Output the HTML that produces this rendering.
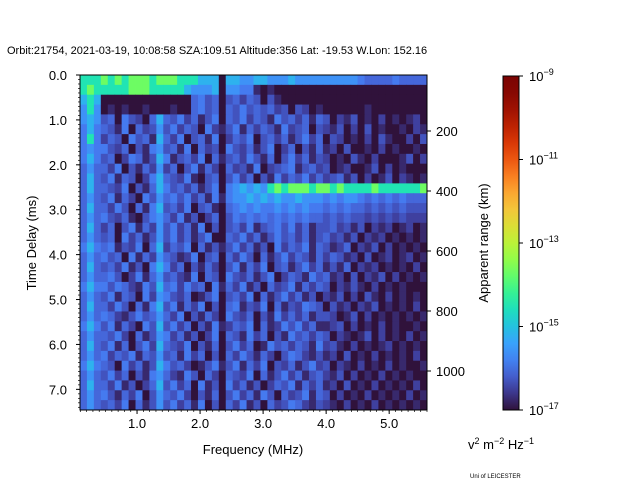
<!DOCTYPE html>
<html><head><meta charset="utf-8"><style>
body{margin:0;background:#fff;width:640px;height:480px;overflow:hidden;font-family:"Liberation Sans",sans-serif}
svg text{font-family:"Liberation Sans",sans-serif;fill:#000}
</style></head><body>
<svg id="chart" width="640" height="480" viewBox="0 0 640 480" xmlns="http://www.w3.org/2000/svg">
<text x="7" y="54" font-size="11">Orbit:21754, 2021-03-19, 10:08:58 SZA:109.51 Altitude:356 Lat: -19.53 W.Lon: 152.16</text>
<g id="cells"></g>
<g id="axes"></g>
<text x="253" y="454" font-size="13" text-anchor="middle">Frequency (MHz)</text>
<text transform="translate(36,243) rotate(-90)" font-size="13" text-anchor="middle">Time Delay (ms)</text>
<text transform="translate(488,243) rotate(-90)" font-size="13" text-anchor="middle">Apparent range (km)</text>
<text x="468" y="449" font-size="13">v<tspan font-size="9" dy="-5">2</tspan><tspan dy="5"> m</tspan><tspan font-size="9" dy="-5">−2</tspan><tspan dy="5"> Hz</tspan><tspan font-size="9" dy="-5">−1</tspan></text>
<text x="470" y="478" font-size="6">Uni of LEICESTER</text>
<defs><linearGradient id="cbg" x1="0" y1="1" x2="0" y2="0"></linearGradient></defs>
<rect x="503" y="76" width="16" height="334" fill="url(#cbg)" stroke="#000" stroke-width="1"/>
<g id="cbticks"></g>
</svg>
<script>
const freqMin = 0.095, freqMax = 5.6;
const delayMin = 0, delayMax = 7.46;
const kmTop = 13.3, kmBottom = 1130;
const xTicks = [1.0, 2.0, 3.0, 4.0, 5.0];
const xTickLabels = ["1.0", "2.0", "3.0", "4.0", "5.0"];
const yTicks = [0, 1, 2, 3, 4, 5, 6, 7];
const yTickLabels = ["0.0", "1.0", "2.0", "3.0", "4.0", "5.0", "6.0", "7.0"];
const kmTicks = [200, 400, 600, 800, 1000];
const cbTicks = [-9, -11, -13, -15, -17];
const cbMin = -17, cbMax = -9;
const levels = [-17, -16.75, -16.5, -16.3, -16.1, -15.9, -15.6, -15.2, -14.5, -13.7];
const rows = [
"888989899989998887"+"77"+"0"+"77667766676666666665444454444",
"898"+"8888999888887"+"6667"+"0"+"6655"+"1010000000000000000000000",
"787"+"0000000000000"+"4534"+"0"+"3424303100000000"+"0000000000000",
"686"+"0101001000100"+"4534"+"0"+"4353434230320100"+"0000100000000",
"676"+"34053204"+"7"+"43524135"+"0"+"43524315342414"+"302130102010120",
"575"+"43150423"+"6"+"35243052"+"1"+"35142431523403"+"213020301001021",
"585"+"24305341"+"7"+"42503415"+"0"+"24350342413524"+"032010203100203",
"565"+"53240315"+"6"+"34150423"+"0"+"53241350240314"+"120300102010010",
"575"+"34025413"+"7"+"51342504"+"1"+"34253140352413"+"201031020001302",
"464"+"42503142"+"6"+"24035142"+"0"+"42315023451342"+"301200130201000",
"474"+"35143025"+"7"+"43251034"+"0"+"35240315243524"+"234130201302101",
"474"+"43250314"+"7"+"53424135"+"0"+"567676"+"89899989989888898888889",
"464"+"35142053"+"6"+"45352415"+"1"+"566767"+"67667666565665454545444",
"474"+"42530415"+"7"+"34250341"+"0"+"456565"+"56565655454544343434333",
"464"+"53241035"+"6"+"42513024"+"0"+"354545"+"45454544343433232323222",
"474"+"24035142"+"6"+"35241503"+"0"+"34251345352413"+"342313021201201",
"464"+"34052413"+"6"+"35241350"+"0"+"43524135342413"+"423130212010101",
"575"+"45132504"+"7"+"24350413"+"1"+"35241305243514"+"312402130201010",
"464"+"53405142"+"6"+"43125034"+"0"+"42530413524314"+"243120301201201",
"474"+"34251305"+"7"+"52403142"+"0"+"35142503413524"+"131402120101020",
"464"+"45302514"+"6"+"34215043"+"0"+"53241350243153"+"412030213020101",
"575"+"53542153"+"7"+"45253405"+"1"+"42513042351424"+"302131020101000",
"464"+"35143052"+"6"+"53240135"+"0"+"34250413524130"+"213020310201010",
"474"+"42530415"+"7"+"35142503"+"0"+"45132504132543"+"031202130101020",
"464"+"54213534"+"6"+"42503142"+"0"+"53240315242413"+"320130201010101",
"575"+"35142053"+"7"+"35240315"+"1"+"24350412535241"+"123020102010010",
"464"+"43520413"+"6"+"52413025"+"0"+"43152403153424"+"302101302010201",
"474"+"35140352"+"7"+"43250314"+"0"+"35240153424315"+"231020101201010",
"464"+"52435143"+"6"+"34152403"+"0"+"42531420354213"+"120301020101020",
"575"+"43052413"+"7"+"53420135"+"1"+"35142503241352"+"302102010201001",
"464"+"35240315"+"6"+"42153042"+"0"+"43250413524134"+"213020102010100",
"474"+"42513024"+"7"+"35240513"+"0"+"52413024351424"+"120301020101020",
"464"+"53142503"+"6"+"43520314"+"0"+"35241530423514"+"302010201010201",
"464"+"34250413"+"6"+"35241503"+"0"+"42513042354213"+"210201020101010"
];
const NCOL = 50;
const PX0 = 80, PX1 = 427, PY0 = 75, PY1 = 410;
function xScale(f){ return PX0 + (f - freqMin) / (freqMax - freqMin) * (PX1 - PX0); }
function yScale(d){ return PY0 + (d - delayMin) / (delayMax - delayMin) * (PY1 - PY0); }
function kmScale(k){ return PY0 + (k - kmTop) / (kmBottom - kmTop) * (PY1 - PY0); }
function cbScale(e){ return 410 - (e - cbMin) / (cbMax - cbMin) * 334; }
const stops = [[0,48,18,59],[0.07,65,69,171],[0.13,70,117,237],[0.2,57,162,252],[0.27,27,207,212],[0.33,36,236,166],[0.4,97,252,108],[0.47,164,252,59],[0.53,209,232,52],[0.6,243,198,58],[0.67,254,155,45],[0.73,243,99,21],[0.8,217,56,6],[0.87,177,25,1],[0.93,140,10,2],[1,122,4,3]];
function turbo(t){
  t=Math.max(0,Math.min(1,t));
  for(let i=1;i<stops.length;i++){ if(t<=stops[i][0]){ const a=stops[i-1],b=stops[i],u=(t-a[0])/(b[0]-a[0]);
    return 'rgb('+[1,2,3].map(k=>Math.round(a[k]+(b[k]-a[k])*u)).join(',')+')'; } }
  return 'rgb(122,4,3)';
}
const NS='http://www.w3.org/2000/svg';
function mk(tag, attrs, parent){ const e=document.createElementNS(NS,tag); for(const k in attrs) e.setAttribute(k,attrs[k]); parent.appendChild(e); return e; }
const cells=document.getElementById('cells');
const df=(freqMax-freqMin)/NCOL, dd=(delayMax-delayMin)/rows.length;
rows.forEach((row,r)=>{
  const s=row.padEnd(NCOL,'0');
  for(let c=0;c<NCOL;c++){
    const e=levels[+s[c]];
    const x0=xScale(freqMin+c*df), x1=xScale(freqMin+(c+1)*df);
    const y0=yScale(delayMin+r*dd), y1=yScale(delayMin+(r+1)*dd);
    const rc=mk('rect',{x:x0.toFixed(2),y:y0.toFixed(2),width:(x1-x0+0.4).toFixed(2),height:(y1-y0+0.4).toFixed(2),fill:turbo((e-cbMin)/(cbMax-cbMin))},cells);
    
    
  }
});
const ax=document.getElementById('axes');
const frame=mk('rect',{x:PX0,y:PY0,width:PX1-PX0,height:PY1-PY0,fill:'none',stroke:'#000','stroke-width':1},ax);


for(let f=0.1; f<freqMax; f+=0.1){ const x=xScale(f); mk('line',{x1:x,y1:PY1,x2:x,y2:PY1+2,stroke:'#000','stroke-width':0.7},ax); }
xTicks.forEach((f,i)=>{ const x=xScale(f); mk('line',{x1:x,y1:PY1,x2:x,y2:PY1+4,stroke:'#000'},ax);
  const t=mk('text',{x:x,y:PY1+18,'font-size':13,'text-anchor':'middle'},ax); t.textContent=xTickLabels[i];
  
   });
for(let d=0.1; d<delayMax; d+=0.1){ const y=yScale(d); mk('line',{x1:PX0,y1:y,x2:PX0-2,y2:y,stroke:'#000','stroke-width':0.7},ax); }
yTicks.forEach((d,i)=>{ const y=yScale(d); mk('line',{x1:PX0,y1:y,x2:PX0-4,y2:y,stroke:'#000'},ax);
  const t=mk('text',{x:PX0-13,y:y+5,'font-size':13,'text-anchor':'end'},ax); t.textContent=yTickLabels[i];
  
   });
kmTicks.forEach(k=>{ const y=kmScale(k); mk('line',{x1:PX1,y1:y,x2:PX1+4,y2:y,stroke:'#000'},ax);
  const t=mk('text',{x:PX1+9,y:y+5,'font-size':13},ax); t.textContent=String(k);
  
   });
const g=document.getElementById('cbg');
for(let i=0;i<=20;i++){ mk('stop',{offset:(i/20),'stop-color':turbo(i/20)},g); }
const cbt=document.getElementById('cbticks');
cbTicks.forEach(e=>{ const y=cbScale(e); mk('line',{x1:519,y1:y,x2:523,y2:y,stroke:'#000'},cbt);
  const t=mk('text',{x:529,y:y+5,'font-size':13},cbt);
  
  
  t.textContent='10'; const s=mk('tspan',{'font-size':9,dy:-6},t); s.textContent='−'+Math.abs(e); });
</script>
</body></html>
